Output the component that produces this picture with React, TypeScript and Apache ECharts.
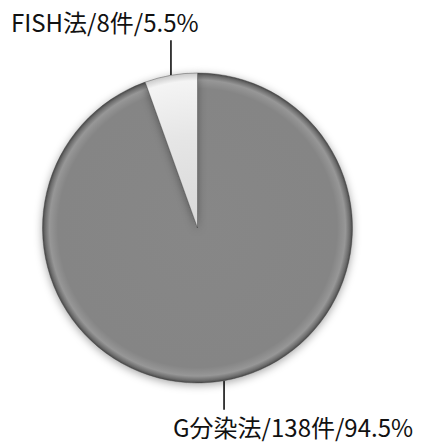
import React, { useEffect, useRef } from "react";
import * as echarts from "echarts";

const categories = ["G分染法", "FISH法"];
const counts = [138, 8];
const percents = ["94.5%", "5.5%"];

const W = 422;
const H = 445;
const CX = 197.5;
const CY = 228;
const R = 155;

export default function App() {
  const ref = useRef<HTMLDivElement>(null);
  useEffect(() => {
    if (!ref.current) return;
    const chart = echarts.init(ref.current, undefined, { renderer: "svg" });
    const grayFill = new echarts.graphic.RadialGradient(CX, CY, R, [
      { offset: 0, color: "#878787" },
      { offset: 0.9, color: "#858585" },
      { offset: 0.955, color: "#979797" },
      { offset: 0.985, color: "#6a6a6a" },
      { offset: 1, color: "#454545" },
    ], true);
    const lightFill = new echarts.graphic.RadialGradient(CX, CY, R, [
      { offset: 0, color: "#d8d8d8" },
      { offset: 0.6, color: "#e6e6e6" },
      { offset: 0.95, color: "#f4f4f4" },
      { offset: 1, color: "#c8c8c8" },
    ], true);
    const fills = [grayFill, lightFill];
    chart.setOption({
      animation: false,
      backgroundColor: "#ffffff",
      series: [
        {
          type: "pie",
          center: [CX, CY],
          radius: R,
          startAngle: 90,
          clockwise: true,
          data: categories.map((c, i) => ({
            name: c,
            value: counts[i],
            itemStyle: { color: fills[i] },
          })),
          itemStyle: {
            borderColor: "rgba(70,70,70,0.55)",
            borderWidth: 0.8,
            shadowBlur: 8,
            shadowColor: "rgba(0,0,0,0.35)",
            shadowOffsetY: 2,
          },
          label: {
            show: true,
            position: "outside",
            overflow: "none",
            formatter: (p: any) =>
              `${categories[p.dataIndex]}/${counts[p.dataIndex]}件/${percents[p.dataIndex]}`,
            fontFamily: "'Noto Sans CJK JP', 'Noto Sans', sans-serif",
            fontSize: 24,
            color: "#111111",
          },
          labelLine: {
            show: true,
            length: 20,
            length2: 0,
            lineStyle: { color: "#000000", width: 1.5 },
          },
          labelLayout: (params: any) => {
            const pts = params.labelLinePoints;
            if (!pts) return {};
            const x0 = pts[0][0];
            const y0 = pts[0][1];
            if (params.dataIndex === 0) {
              return {
                x: x0 - 51,
                y: y0 + 46,
                align: "left",
                verticalAlign: "middle",
                width: 300,
                labelLinePoints: [
                  [x0, y0],
                  [x0, y0 + 29],
                  [x0, y0 + 29],
                ],
              };
            }
            return {
              x: x0 - 160,
              y: y0 - 54,
              align: "left",
              verticalAlign: "middle",
              width: 300,
              labelLinePoints: [
                [x0, y0],
                [x0, y0 - 35],
                [x0, y0 - 35],
              ],
            };
          },
        },
      ],
    });
    return () => chart.dispose();
  }, []);
  return (
    <div
      ref={ref}
      style={{ position: "fixed", left: 0, top: 0, width: W, height: H }}
    />
  );
}
